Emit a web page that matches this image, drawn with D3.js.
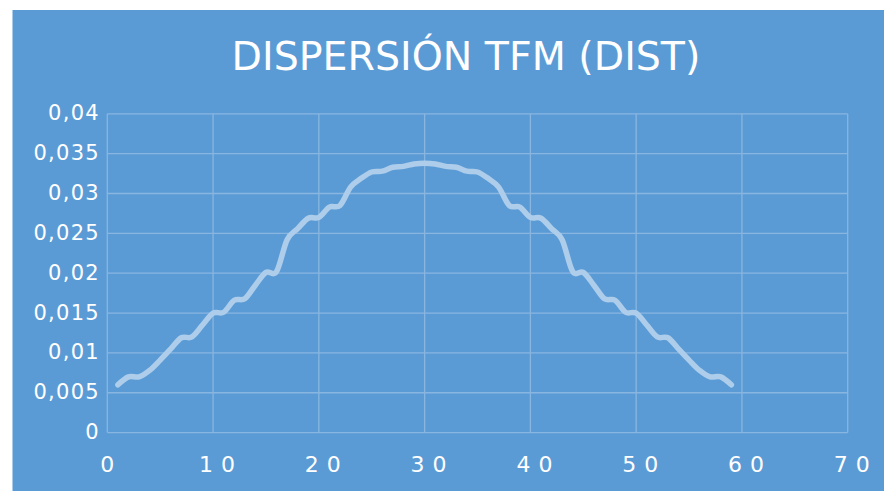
<!DOCTYPE html>
<html>
<head>
<meta charset="utf-8">
<script src="https://cdn.jsdelivr.net/npm/d3@7"></script>
<style>
  html, body { margin: 0; padding: 0; background: #ffffff; }
  svg { display: block; }
  text { font-family: "DejaVu Sans", Verdana, sans-serif; fill: #ffffff; }
</style>
</head>
<body>
<svg id="chart" width="884" height="491"></svg>
<script>
// ---- Data ----
const chartTitle = "DISPERSIÓN TFM (DIST)";
const xValues = d3.range(1, 60); // 1..59
const yValues = [
  0.0060, 0.0070, 0.0070, 0.0078, 0.0091, 0.0105, 0.0119, 0.0120, 0.0135, 0.0150,
  0.0151, 0.0166, 0.0168, 0.0185, 0.0201, 0.0202, 0.0242, 0.0256, 0.0269, 0.0270,
  0.0283, 0.0285, 0.0308, 0.0319, 0.0327, 0.0328, 0.0333, 0.0334, 0.0337, 0.0338,
  0.0337, 0.0334, 0.0333, 0.0328, 0.0327, 0.0319, 0.0308, 0.0285, 0.0283, 0.0270,
  0.0269, 0.0256, 0.0242, 0.0202, 0.0201, 0.0185, 0.0168, 0.0166, 0.0151, 0.0150,
  0.0135, 0.0120, 0.0119, 0.0105, 0.0091, 0.0078, 0.0070, 0.0070, 0.0060
];
const xTicks = [0, 10, 20, 30, 40, 50, 60, 70];
const xTickLabels = ["0", "10", "20", "30", "40", "50", "60", "70"];
const yTicks = [0, 0.005, 0.01, 0.015, 0.02, 0.025, 0.03, 0.035, 0.04];
const yTickLabels = ["0", "0,005", "0,01", "0,015", "0,02", "0,025", "0,03", "0,035", "0,04"];

// ---- Layout ----
const svg = d3.select("#chart");
const bg = "#5b9bd5";
const gridColor = "#89b6e1";
const lineColor = "#adcdeb";

svg.append("rect")
  .attr("x", 12.5).attr("y", 10)
  .attr("width", 884 - 12.5).attr("height", 491 - 10)
  .attr("fill", bg);

const x = d3.scaleLinear().domain([0, 70]).range([107.3, 847.7]);
const y = d3.scaleLinear().domain([0, 0.04]).range([432.6, 113.8]);

// Horizontal gridlines
svg.append("g")
  .selectAll("line")
  .data(yTicks)
  .join("line")
  .attr("x1", x(0)).attr("x2", x(70))
  .attr("y1", d => y(d)).attr("y2", d => y(d))
  .attr("stroke", gridColor).attr("stroke-width", 1.3);

// Vertical gridlines
svg.append("g")
  .selectAll("line")
  .data(xTicks)
  .join("line")
  .attr("y1", y(0)).attr("y2", y(0.04))
  .attr("x1", d => x(d)).attr("x2", d => x(d))
  .attr("stroke", gridColor).attr("stroke-width", 1.3);

// Y axis labels
svg.append("g")
  .selectAll("text")
  .data(yTicks)
  .join("text")
  .attr("x", 100)
  .attr("y", d => y(d) + 6.5)
  .attr("text-anchor", "end")
  .attr("font-size", 21)
  .attr("letter-spacing", 1.3)
  .text((d, i) => yTickLabels[i]);

// X axis labels (spaced digits, centred on natural width)
const xfs = 22;
svg.append("g")
  .selectAll("text")
  .data(xTicks)
  .join("text")
  .attr("x", (d, i) => x(d) - xTickLabels[i].length * 0.636 * xfs / 2)
  .attr("y", 472)
  .attr("text-anchor", "start")
  .attr("font-size", xfs)
  .attr("letter-spacing", 8)
  .text((d, i) => xTickLabels[i]);

// Line
const data = xValues.map((xv, i) => ({ x: xv, y: yValues[i] }));
const line = d3.line()
  .x(d => x(d.x))
  .y(d => y(d.y))
  .curve(d3.curveCatmullRom.alpha(0));

svg.append("path")
  .datum(data)
  .attr("d", line)
  .attr("fill", "none")
  .attr("stroke", lineColor)
  .attr("stroke-width", 5.5)
  .attr("stroke-linecap", "round")
  .attr("stroke-linejoin", "round");

// Title
svg.append("text")
  .attr("x", 466)
  .attr("y", 70)
  .attr("text-anchor", "middle")
  .attr("font-size", 39.5)
  .text(chartTitle);
</script>
</body>
</html>
